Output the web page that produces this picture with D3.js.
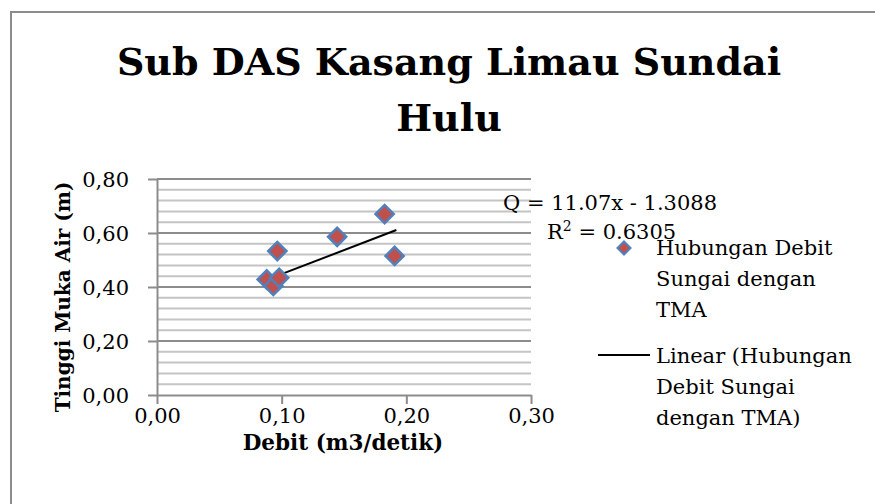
<!DOCTYPE html>
<html lang="en">
<head>
  <meta charset="UTF-8">
  <title>Sub DAS Kasang Limau Sundai Hulu</title>
  <style>
    html, body { margin: 0; padding: 0; background: #fff; }
    svg text { font-family: "DejaVu Serif", serif; fill: #000; }
    .grid-minor { stroke: #c4c4c4; stroke-width: 2px; }
    .grid-major { stroke: #8c8c8c; stroke-width: 2px; }
    .axis path, .axis line { stroke: #8c8c8c; stroke-width: 2px; }
    .axis text { font-size: 21px; }
  </style>
</head>
<body>
  <svg id="chart" width="875" height="504"></svg>

  <script src="https://d3js.org/d3.v7.min.js"></script>
  <script>
    // data
    const debit = [0.088, 0.0933, 0.098, 0.0965, 0.1445, 0.1826, 0.1906];
    const tma = [0.428, 0.404, 0.434, 0.533, 0.586, 0.670, 0.515];
    // linear trendline ends as drawn in the reference
    const trendDebit = [0.0888, 0.192];
    const trendTma = [0.428, 0.611];

    const xTicks = [0, 0.1, 0.2, 0.3];
    const yTicks = [0, 0.2, 0.4, 0.6, 0.8];
    const yMinor = d3.range(0, 0.8001, 0.04);

    const titleLines = ['Sub DAS Kasang Limau Sundai', 'Hulu'];
    const eqText = 'Q = 11.07x - 1.3088';
    const r2Text = '0.6305';
    const pointLegend = ['Hubungan Debit', 'Sungai dengan', 'TMA'];
    const lineLegend = ['Linear (Hubungan', 'Debit Sungai', 'dengan TMA)'];

    const svg = d3.select('#chart');
    const fmt = d => d.toFixed(2).replace('.', ',');

    // chart border (right/bottom edges fall outside the picture)
    svg.append('rect')
      .attr('x', 11).attr('y', 12)
      .attr('width', 900).attr('height', 520)
      .attr('fill', 'none')
      .attr('stroke', '#8c8c8c')
      .attr('stroke-width', 2);

    const x = d3.scaleLinear().domain([0, 0.3]).range([157, 531]);
    const y = d3.scaleLinear().domain([0, 0.8]).range([395, 179]);

    // gridlines
    svg.append('g').selectAll('line')
      .data(yMinor.filter(v => Math.round(v * 100) % 20 !== 0))
      .enter().append('line')
      .attr('class', 'grid-minor')
      .attr('x1', x(0)).attr('x2', x(0.3))
      .attr('y1', d => y(d)).attr('y2', d => y(d));

    svg.append('g').selectAll('line')
      .data(yTicks.filter(v => v > 0))
      .enter().append('line')
      .attr('class', 'grid-major')
      .attr('x1', x(0)).attr('x2', x(0.3))
      .attr('y1', d => y(d)).attr('y2', d => y(d));

    // axes
    svg.append('g')
      .attr('class', 'axis')
      .attr('transform', `translate(${x(0)},0)`)
      .call(d3.axisLeft(y).tickValues(yTicks).tickFormat(fmt).tickSize(9).tickPadding(19).tickSizeOuter(0))
      .call(g => g.selectAll('text').attr('dy', '0.36em'));

    svg.append('g')
      .attr('class', 'axis')
      .attr('transform', `translate(0,${y(0)})`)
      .call(d3.axisBottom(x).tickValues(xTicks).tickFormat(fmt).tickSize(9).tickPadding(4).tickSizeOuter(0));

    // trendline
    svg.append('line')
      .attr('x1', x(trendDebit[0])).attr('y1', y(trendTma[0]))
      .attr('x2', x(trendDebit[1])).attr('y2', y(trendTma[1]))
      .attr('stroke', '#000')
      .attr('stroke-width', 2);

    // points
    const diamond = d3.symbol().type(d3.symbolSquare).size(165);
    svg.append('g').selectAll('path')
      .data(debit.map((d, i) => [d, tma[i]]))
      .enter().append('path')
      .attr('d', diamond)
      .attr('transform', d => `translate(${x(d[0])},${y(d[1])}) rotate(45)`)
      .attr('fill', '#c0504d')
      .attr('stroke', '#4f81bd')
      .attr('stroke-width', 2.5);

    // title
    svg.append('text')
      .attr('text-anchor', 'middle')
      .attr('font-weight', 'bold')
      .attr('font-size', 38)
      .selectAll('tspan')
      .data(titleLines)
      .enter().append('tspan')
      .attr('x', 449)
      .attr('y', (d, i) => 75 + i * 56)
      .text(d => d);

    // axis titles
    svg.append('text')
      .attr('x', 343).attr('y', 450)
      .attr('text-anchor', 'middle')
      .attr('font-weight', 'bold')
      .attr('font-size', 21.5)
      .text('Debit (m3/detik)');

    svg.append('text')
      .attr('transform', 'translate(70,297) rotate(-90)')
      .attr('text-anchor', 'middle')
      .attr('font-weight', 'bold')
      .attr('font-size', 20)
      .text('Tinggi Muka Air (m)');

    // trend equation
    svg.append('text')
      .attr('x', 503).attr('y', 210)
      .attr('font-size', 21)
      .text(eqText);

    const r2 = svg.append('text')
      .attr('x', 547).attr('y', 239)
      .attr('font-size', 21);
    r2.append('tspan').text('R');
    r2.append('tspan').attr('dy', -8).attr('font-size', 14).text('2');
    r2.append('tspan').attr('dy', 8).text(' = ' + r2Text);

    // legend
    svg.append('path')
      .attr('d', d3.symbol().type(d3.symbolSquare).size(85))
      .attr('transform', 'translate(624,248) rotate(45)')
      .attr('fill', '#c0504d')
      .attr('stroke', '#4f81bd')
      .attr('stroke-width', 2);

    svg.append('text')
      .attr('font-size', 21)
      .selectAll('tspan')
      .data(pointLegend)
      .enter().append('tspan')
      .attr('x', 656)
      .attr('y', (d, i) => 255 + i * 31)
      .text(d => d);

    svg.append('line')
      .attr('x1', 598).attr('x2', 650)
      .attr('y1', 355).attr('y2', 355)
      .attr('stroke', '#000')
      .attr('stroke-width', 2);

    svg.append('text')
      .attr('font-size', 21)
      .selectAll('tspan')
      .data(lineLegend)
      .enter().append('tspan')
      .attr('x', 656)
      .attr('y', (d, i) => 363 + i * 31)
      .text(d => d);
  </script>
</body>
</html>
